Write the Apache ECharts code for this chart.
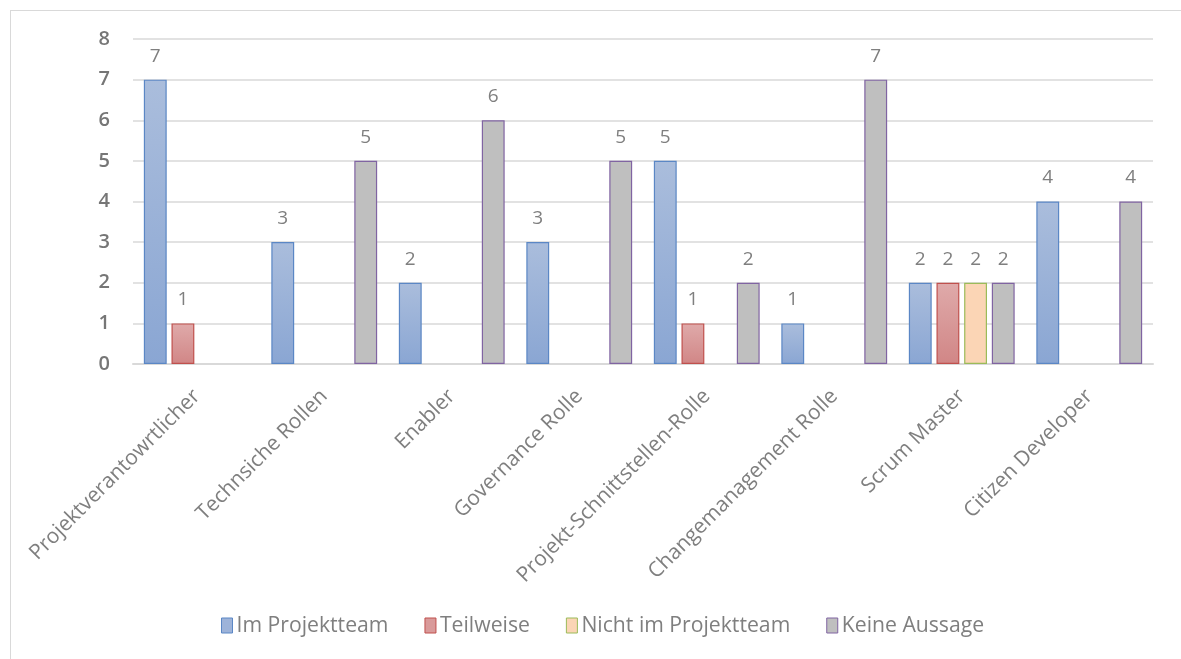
<!DOCTYPE html>
<html>
<head>
<meta charset="utf-8">
<script src="https://cdn.jsdelivr.net/npm/echarts@6/dist/echarts.min.js"></script>
<style>
  html, body { margin: 0; padding: 0; background: #fff; }
  #frame { position: absolute; left: 10px; top: 10px; width: 1180px; height: 700px; border: 1px solid #d9d9d9; box-sizing: border-box; }
  #chart { position: absolute; left: 0; top: 0; width: 1181px; height: 659px; }
</style>
</head>
<body>
<div id="frame"></div>
<div id="chart"></div>
<script>
const categories = [
  "Projektverantowrtlicher", "Technsiche Rollen", "Enabler", "Governance Rolle",
  "Projekt-Schnittstellen-Rolle", "Changemanagement Rolle", "Scrum Master", "Citizen Developer"
];
const seriesNames = ["Im Projektteam", "Teilweise", "Nicht im Projektteam", "Keine Aussage"];
const imProjektteam = [7, 3, 2, 3, 5, 1, 2, 4];
const teilweise = [1, null, null, null, 1, null, 2, null];
const nichtImProjektteam = [null, null, null, null, null, null, 2, null];
const keineAussage = [null, 5, 6, 5, 2, 7, 2, 4];

const FONT = "'Open Sans', 'Noto Sans', sans-serif";
const TEXT = "#7f7f7f";

function grad(top, bottom) {
  return new echarts.graphic.LinearGradient(0, 0, 0, 1, [
    { offset: 0, color: top },
    { offset: 1, color: bottom }
  ]);
}

const styles = [
  { fill: grad("#aabddc", "#8aa6d3"), flat: "#9db3d9", border: "#5b87c5" },
  { fill: grad("#dfaaaa", "#d18686"), flat: "#d99a9a", border: "#c0504d" },
  { fill: "#fbd5b5", flat: "#fbd5b5", border: "#9bbb59" },
  { fill: "#bfbfbf", flat: "#bfbfbf", border: "#8064a2" }
];
const values = [imProjektteam, teilweise, nichtImProjektteam, keineAussage];

const chart = echarts.init(document.getElementById("chart"), null, { renderer: "canvas" });

chart.setOption({
  animation: false,
  backgroundColor: "transparent",
  textStyle: { fontFamily: FONT },
  grid: { left: 133, right: 28, top: 39, bottom: 295 },
  legend: {
    bottom: 18,
    left: 216,
    itemWidth: 11,
    itemHeight: 15,
    itemGap: 36,
    textStyle: { color: TEXT, fontSize: 21.2, fontFamily: FONT, padding: [0, 0, 0, -1] },
    data: seriesNames.map((name, i) => ({
      name,
      icon: "rect",
      itemStyle: { color: styles[i].flat, borderColor: styles[i].border, borderWidth: 1 }
    }))
  },
  xAxis: {
    type: "category",
    data: categories,
    axisLine: { lineStyle: { color: "#d9d9d9", width: 2 } },
    axisTick: { show: false },
    axisLabel: {
      rotate: 45,
      interval: 0,
      margin: 29,
      color: TEXT,
      fontSize: 21,
      fontFamily: FONT
    }
  },
  yAxis: {
    type: "value",
    min: 0,
    max: 8,
    interval: 1,
    axisLine: { show: false },
    axisTick: { show: false },
    splitLine: { lineStyle: { color: "#d9d9d9", width: 1.5 } },
    axisLabel: { color: "#767676", fontSize: 20, fontWeight: 600, margin: 23, fontFamily: FONT }
  },
  series: seriesNames.map((name, i) => ({
    name,
    type: "bar",
    data: values[i],
    barGap: "21%",
    barCategoryGap: "17%",
    itemStyle: { color: styles[i].fill, borderColor: styles[i].border, borderWidth: 1.2 },
    label: {
      show: true,
      position: "top",
      distance: 14,
      color: TEXT,
      fontSize: 19,
      fontFamily: FONT
    }
  }))
});
</script>
</body>
</html>
